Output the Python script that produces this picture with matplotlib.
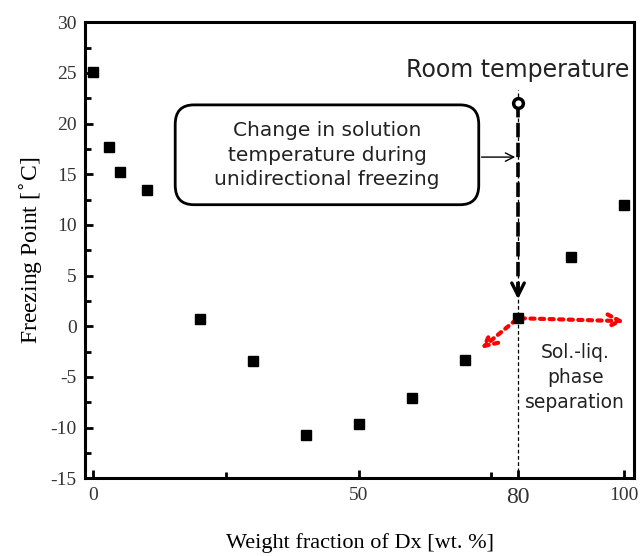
import matplotlib
matplotlib.use("Agg")
import matplotlib.pyplot as plt
from matplotlib.patches import FancyBboxPatch
from matplotlib.ticker import MultipleLocator, FixedLocator

plt.rcParams["axes.unicode_minus"] = False

# Data
weight_fraction = [0, 3, 5, 10, 20, 30, 40, 50, 60, 70, 80, 90, 100]
freezing_point = [25.1, 17.7, 15.2, 13.5, 0.7, -3.4, -10.7, -9.6, -7.1, -3.3, 0.8, 6.8, 12.0]
x_ticks = [0, 50, 80, 100]
x_tick_labels = ["0", "50", "80", "100"]
room_temp_x = 80
room_temp_y = 22.0

fig = plt.figure(figsize=(6.4, 5.56), dpi=100)
ax = fig.add_axes([0.1328, 0.1397, 0.991 - 0.1328, 0.9599 - 0.1397])

serif = ["Liberation Serif", "DejaVu Serif"]

ax.plot(weight_fraction, freezing_point, linestyle="none", marker="s",
        markersize=6.5, color="black", zorder=5)

ax.set_xlim(-1.6, 101.9)
ax.set_ylim(-15, 30)

# Vertical thin dashed line at 80
ax.plot([80, 80], [-15, 23.3], color="black", linestyle=(0, (3, 2)), linewidth=0.9, zorder=2)
# Thick dashed line from room temp down
ax.plot([80, 80], [room_temp_y, 3.2], color="black", linestyle=(0, (4, 1.5)), linewidth=2.6, zorder=3)
ax.annotate("", xy=(80, 2.4), xytext=(80, 4.5),
            arrowprops=dict(arrowstyle="->,head_length=0.9,head_width=0.45", lw=2.4, color="black"))
ax.plot([room_temp_x], [room_temp_y], marker="o", markersize=7, markerfacecolor="white",
        markeredgecolor="black", markeredgewidth=2.5, zorder=6)
ax.text(80, 25.3, "Room temperature", ha="center", va="center", fontsize=17,
        family="DejaVu Sans", color="#222222")

# Rounded box
box = FancyBboxPatch((15.4, 12.0), 57.2, 9.85, boxstyle="round,pad=0,rounding_size=3.5",
                     facecolor="white", edgecolor="black", linewidth=2.0, zorder=4,
                     mutation_aspect=0.55)
ax.add_patch(box)
ax.text(44, 16.9, "Change in solution\ntemperature during\nunidirectional freezing",
        ha="center", va="center", fontsize=14.5, family="DejaVu Sans", color="#222222",
        linespacing=1.38, zorder=5)
ax.annotate("", xy=(80, 16.7), xytext=(72.6, 16.7),
            arrowprops=dict(arrowstyle="->,head_length=0.6,head_width=0.3", lw=1.0, color="black"),
            zorder=5)

# Red dotted arrows
ax.annotate("", xy=(100.6, 0.5), xytext=(80, 0.8),
            arrowprops=dict(arrowstyle="->,head_length=0.9,head_width=0.45", lw=3, color="red",
                            linestyle=(0, (1, 1.3))), zorder=4)
ax.annotate("", xy=(72.6, -2.4), xytext=(80, 0.8),
            arrowprops=dict(arrowstyle="->,head_length=0.9,head_width=0.45", lw=3, color="red",
                            linestyle=(0, (1, 1.3))), zorder=4)
ax.text(90.8, -5.1, "Sol.-liq.\nphase\nseparation", ha="center", va="center", fontsize=13.5,
        family="DejaVu Sans", color="#222222", linespacing=1.4)

# Axes styling
for side in ["left", "right", "top", "bottom"]:
    ax.spines[side].set_linewidth(2.2)

ax.xaxis.set_major_locator(FixedLocator(x_ticks))
ax.set_xticklabels(x_tick_labels, family=serif, fontsize=14)
ax.get_xticklabels()[2].set_fontsize(17)
ax.xaxis.set_minor_locator(FixedLocator([25, 75]))
ax.yaxis.set_major_locator(MultipleLocator(5))
ax.yaxis.set_minor_locator(MultipleLocator(2.5))
for lab in ax.get_yticklabels():
    lab.set_family(serif)
    lab.set_fontsize(14)
ax.tick_params(which="both", direction="in", top=False, right=False, width=2, colors="black")
ax.tick_params(which="major", length=6, pad=6)
ax.tick_params(which="minor", length=4)
for lab in ax.get_xticklabels():
    lab.set_color("#333333")
for lab in ax.get_yticklabels():
    lab.set_color("#333333")

ax.set_xlabel("Weight fraction of Dx [wt. %]", family=serif, fontsize=16, labelpad=18)
ax.set_ylabel("Freezing Point [$^{\\circ}$C]", family=serif, fontsize=17, labelpad=4)

fig.savefig("out.png", dpi=100)
